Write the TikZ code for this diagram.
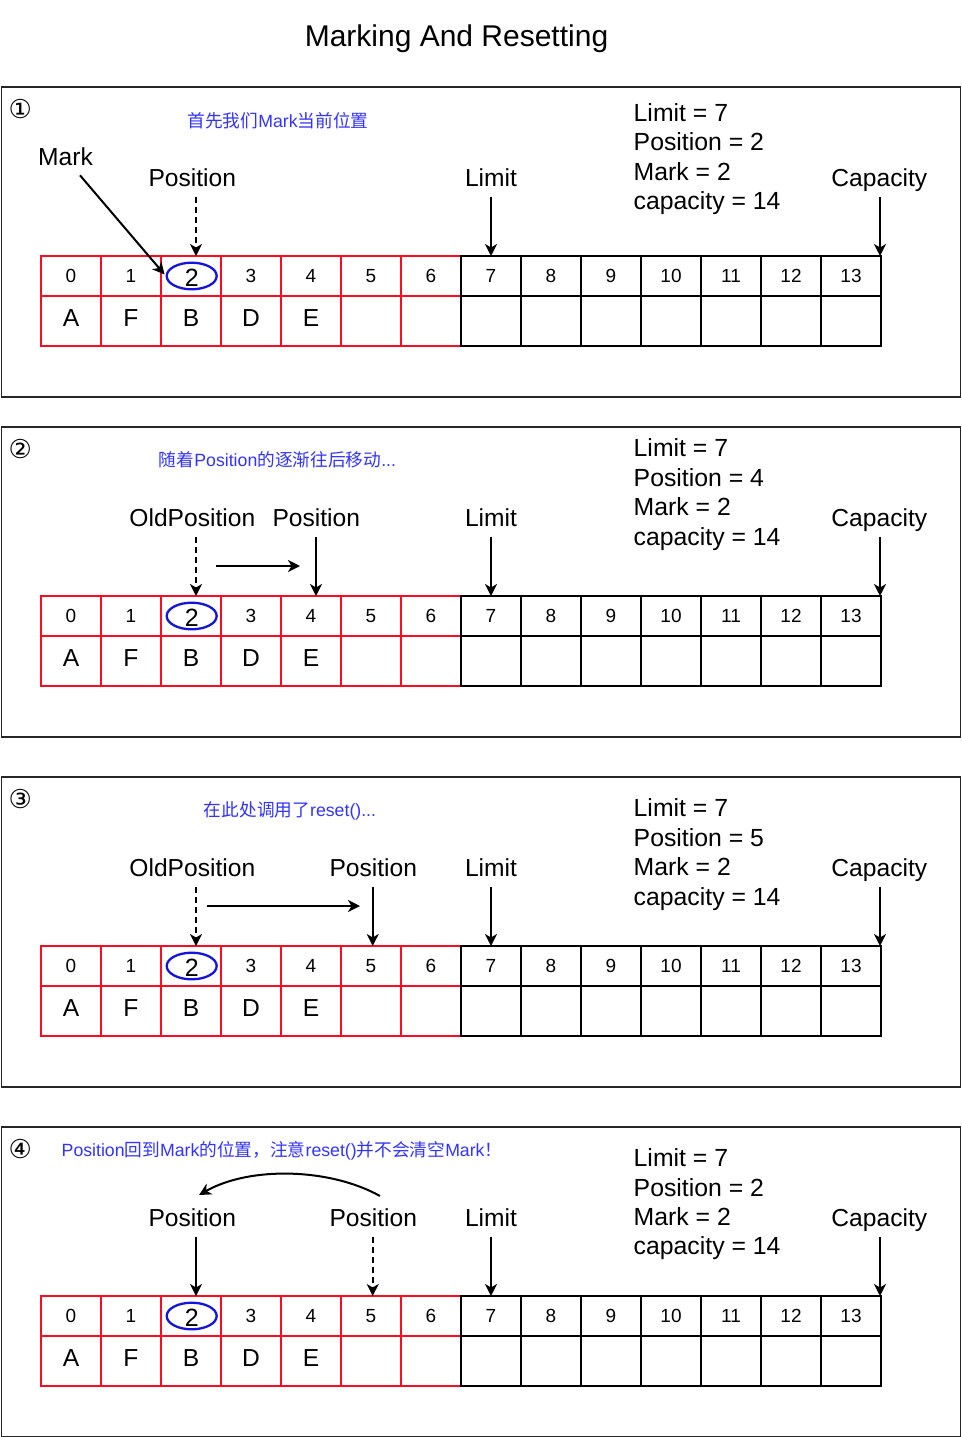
\documentclass[tikz,border=0pt]{standalone}
\usepackage{fontspec}
\setmainfont{Liberation Sans}
\newfontfamily\cjk{Noto Sans CJK SC}
\newfontfamily\dejavu{DejaVu Sans}
\usetikzlibrary{arrows.meta,calc,shapes.geometric}
\definecolor{gridred}{RGB}{255,10,30}
\definecolor{bluetxt}{RGB}{51,51,255}
\definecolor{ellblue}{RGB}{20,20,220}
\newcommand\zh[1]{{\cjk #1}}
\tikzset{
  lbl/.style={font=\fontsize{24.6}{28}\selectfont, inner sep=0pt, anchor=base},
  stat/.style={font=\fontsize{24.8}{28}\selectfont, inner sep=0pt, anchor=base west},
  note/.style={font=\fontsize{17.7}{20}\selectfont, text=bluetxt, inner sep=0pt},
  circnum/.style={font=\dejavu\fontsize{26}{28}\selectfont, inner sep=0pt},
  frame/.style={draw=black!85, line width=1.6pt, minimum width=959pt, minimum height=310pt, anchor=north west, inner sep=0pt},
  topcell/.style={line width=2pt, minimum width=60pt, minimum height=40pt, anchor=north west, inner sep=0pt, outer sep=0pt, font=\fontsize{19}{20}\selectfont, text height=13.6pt, text depth=0pt},
  botcell/.style={line width=2pt, minimum width=60pt, minimum height=50pt, anchor=north west, inner sep=0pt, outer sep=0pt, font=\fontsize{24.6}{28}\selectfont, text height=17.6pt, text depth=7.6pt},
  bigtwo/.style={font=\fontsize{25}{28}\selectfont, text height=20.6pt, text depth=0pt},
  markell/.style={draw=ellblue, line width=2.3pt, ellipse, minimum width=50pt, minimum height=26.6pt, inner sep=0pt},
  arr/.style={-{Stealth[length=12pt,width=12pt,inset=3.5pt]}, line width=2pt},
  darr/.style={arr, dash pattern=on 6pt off 4pt}
}
\begin{document}
\begin{tikzpicture}[x=1pt,y=-1pt]
\useasboundingbox (0,0) rectangle (961,1437);
\fill[white] (0,0) rectangle (961,1437);
\node[font=\fontsize{30}{36}\selectfont, inner sep=0pt, anchor=base] (title) at (456.5,47) {Marking And Resetting};

\foreach \p/\y/\c in {1/86/①,2/426/②,3/776/③,4/1126/④} {
  \begin{scope}[shift={(0,\y)}]
    \node[frame] (f\p) at (0.8,0) {};
    \node[circnum] (n\p) at (20.3,23.3) {\c};
    \foreach \i/\L in {0/A,1/F,2/B,3/D,4/E,5/{},6/{}} {
      \node[topcell, draw=gridred] (g\p-t\i) at ({41+60*\i},170) {\ifnum\i=2 \else\i\fi};
      \node[botcell, draw=gridred] (g\p-b\i) at ({41+60*\i},210) {\L};
    }
    \foreach \i in {7,...,13} {
      \node[topcell, draw=black] (g\p-t\i) at ({41+60*\i},170) {\i};
      \node[botcell, draw=black] (g\p-b\i) at ({41+60*\i},210) {};
    }
    \node[bigtwo, inner sep=0pt] (two\p) at (191.7,190) {2};
    \node[markell] (m\p) at (191.7,190) {};
    \node[lbl] (lim\p) at (491,100) {Limit};
    \node[lbl] (cap\p) at (879.3,100) {Capacity};
    \draw[arr] ($(g\p-t7.north)+(0,-59.5)$) -- (g\p-t7.north);
    \draw[arr] ($(g\p-t13.north east)+(-1,-59.5)$) -- ($(g\p-t13.north east)+(-1,0)$);
  \end{scope}
}

% Panel 1
\begin{scope}[shift={(0,86)}]
  \node[note] (t1) at (278,35) {\zh{首先我们}Mark\zh{当前位置}};
  \node[lbl] (mk1) at (65.5,79.3) {Mark};
  \node[lbl] (pos1) at (192.3,100) {Position};
  \draw[darr] ($(g1-t2.north)+(5,-59.5)$) -- ($(g1-t2.north)+(5,0)$);
  \draw[arr] ($(mk1.base)+(14.5,10)$) -- ($(m1.west)+(-1,-1.5)$);
  \node[stat] (s1a) at (633.5,35) {Limit = 7};
  \node[stat] (s1b) at (633.5,64.5) {Position = 2};
  \node[stat] (s1c) at (633.5,94) {Mark = 2};
  \node[stat] (s1d) at (633.5,123.5) {capacity = 14};
\end{scope}

% Panel 2
\begin{scope}[shift={(0,426)}]
  \node[note] (t2) at (277.5,34) {\zh{随着}Position\zh{的逐渐往后移动}...};
  \node[lbl] (old2) at (192.3,100) {OldPosition};
  \node[lbl] (pos2) at (316.3,100) {Position};
  \draw[darr] ($(g2-t2.north)+(5,-59.5)$) -- ($(g2-t2.north)+(5,0)$);
  \draw[arr] ($(g2-t4.north)+(5,-59.5)$) -- ($(g2-t4.north)+(5,0)$);
  \coordinate (h2a) at (216,140);
  \coordinate (h2b) at (300,140);
  \draw[arr] (h2a) -- (h2b);
  \node[stat] (s2a) at (633.5,30.6) {Limit = 7};
  \node[stat] (s2b) at (633.5,60.1) {Position = 4};
  \node[stat] (s2c) at (633.5,89.6) {Mark = 2};
  \node[stat] (s2d) at (633.5,119.1) {capacity = 14};
\end{scope}

% Panel 3
\begin{scope}[shift={(0,776)}]
  \node[note] (t3) at (290,35) {\zh{在此处调用了}reset()...};
  \node[lbl] (old3) at (192.3,100) {OldPosition};
  \node[lbl] (pos3) at (373.3,100) {Position};
  \draw[darr] ($(g3-t2.north)+(5,-59.5)$) -- ($(g3-t2.north)+(5,0)$);
  \draw[arr] ($(g3-t5.north)+(1.7,-59.5)$) -- ($(g3-t5.north)+(1.7,0)$);
  \coordinate (h3a) at (207.3,130);
  \coordinate (h3b) at (360,130);
  \draw[arr] (h3a) -- (h3b);
  \node[stat] (s3a) at (633.5,40.6) {Limit = 7};
  \node[stat] (s3b) at (633.5,70.1) {Position = 5};
  \node[stat] (s3c) at (633.5,99.6) {Mark = 2};
  \node[stat] (s3d) at (633.5,129.1) {capacity = 14};
\end{scope}

% Panel 4
\begin{scope}[shift={(0,1126)}]
  \node[note] (t4) at (282,25) {Position\zh{回到}Mark\zh{的位置，注意}reset()\zh{并不会清空}Mark\zh{！}};
  \node[lbl] (posa4) at (192.3,100) {Position};
  \node[lbl] (posb4) at (373.3,100) {Position};
  \draw[arr] ($(g4-t2.north)+(5,-59.5)$) -- ($(g4-t2.north)+(5,0)$);
  \draw[darr] ($(g4-t5.north)+(1.7,-59.5)$) -- ($(g4-t5.north)+(1.7,0)$);
  \coordinate (c4a) at (380,70);
  \coordinate (c4b) at (199,69);
  \draw[arr] (c4a) .. controls (330,42) and (250,40) .. (c4b);
  \node[stat] (s4a) at (633.5,40.7) {Limit = 7};
  \node[stat] (s4b) at (633.5,70) {Position = 2};
  \node[stat] (s4c) at (633.5,99.3) {Mark = 2};
  \node[stat] (s4d) at (633.5,128.6) {capacity = 14};
\end{scope}
\end{tikzpicture}
\end{document}
